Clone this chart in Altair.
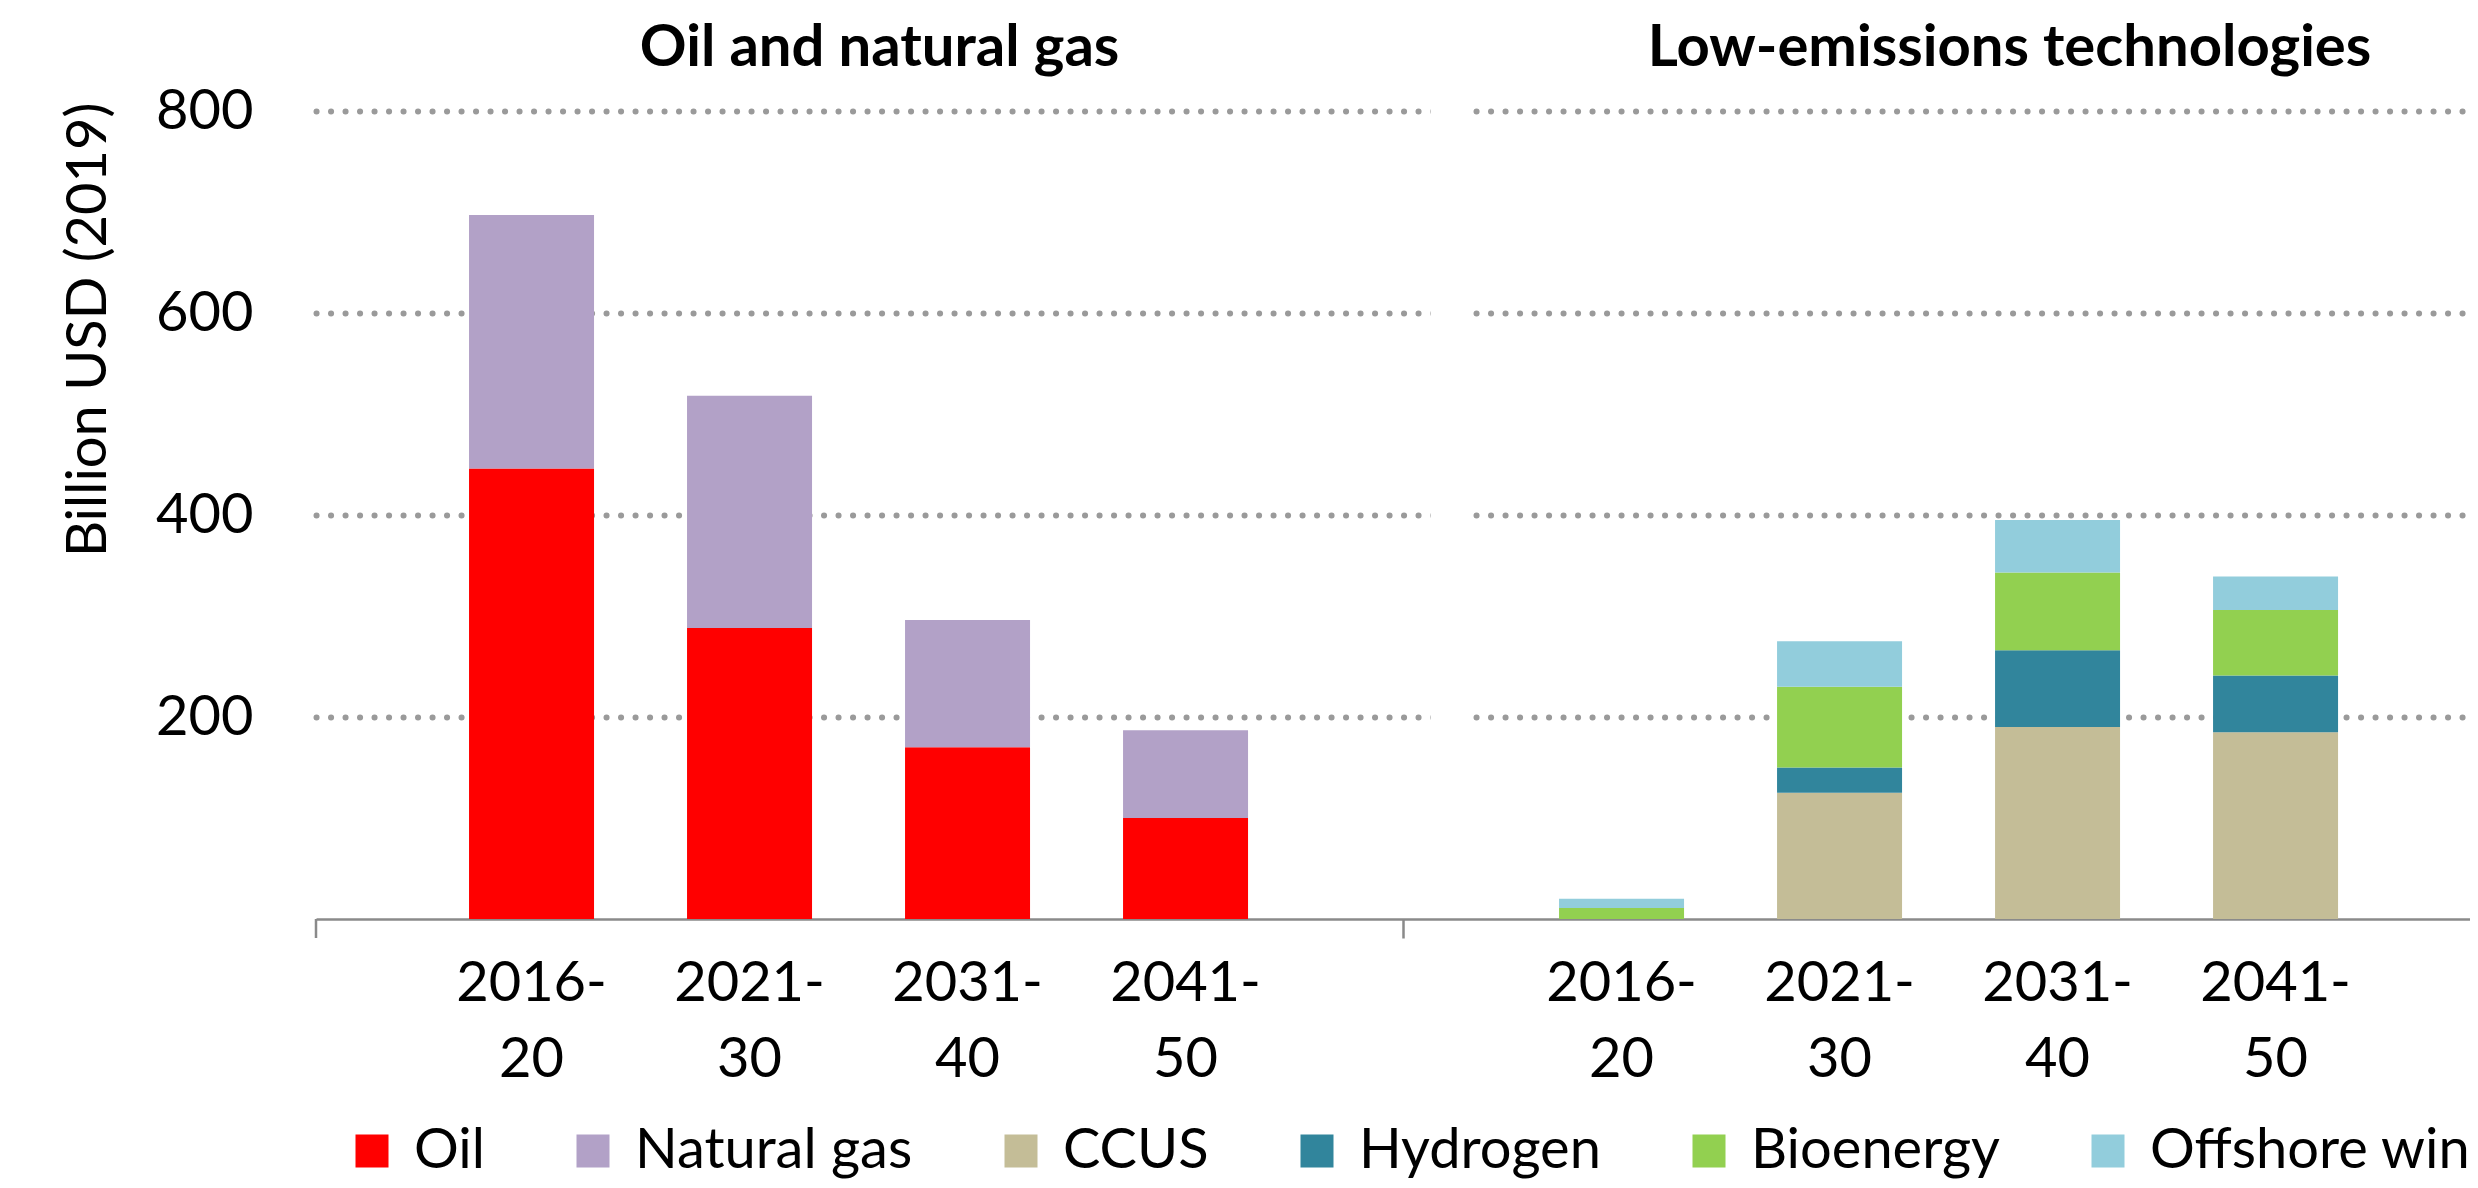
import altair as alt
import pandas as pd

# ---- data ----
periods = ["2016-20", "2021-30", "2031-40", "2041-50"]
panels = ["Oil and natural gas", "Low-emissions technologies"]

oil = [446, 288, 170, 100]
natural_gas = [251, 230, 126, 87]
ccus = [0, 125, 190, 185]
hydrogen = [0, 25, 76, 56]
bioenergy = [11, 80, 77, 65]
offshore_wind = [9, 45, 52, 33]

series_names = ["Oil", "Natural gas", "CCUS", "Hydrogen", "Bioenergy", "Offshore wind"]
series_colors = ["#FF0000", "#B2A1C7", "#C4BD97", "#31859C", "#92D050", "#92CDDC"]
y_ticks = [200, 400, 600, 800]
y_title = "Billion USD (2019)"

GAP = "gap"
series_panel = [panels[0], panels[0], panels[1], panels[1], panels[1], panels[1]]
series_values = [oil, natural_gas, ccus, hydrogen, bioenergy, offshore_wind]

rows = []
for k, (name, panel, vals) in enumerate(zip(series_names, series_panel, series_values)):
    for p, v in zip(periods, vals):
        rows.append({"slot": f"{panel}|{p}", "series": name, "value": v, "order": k})
df = pd.DataFrame(rows)

x_domain = [f"{panels[0]}|{p}" for p in periods] + [GAP] + [f"{panels[1]}|{p}" for p in periods]

FONT = "Lato"
GRAY = "#8a8a8a"

x_scale = alt.Scale(domain=x_domain, paddingInner=0.4266, paddingOuter=0.6536, align=0.537)
y_scale = alt.Scale(domain=[0, 800], nice=False)

label_expr = (
    "datum.value == 'gap' ? '' : "
    "[substring(split(datum.value, '|')[1], 0, 5), substring(split(datum.value, '|')[1], 5)]"
)

x_axis = alt.Axis(
    title=None,
    labelExpr=label_expr,
    labelFont=FONT,
    labelFontSize=56,
    labelColor="black",
    labelLineHeight=76,
    labelPadding=18,
    labelAlign="center",
    labelBaseline="top",
    labelAngle=0,
    labelOverlap=False,
    labelFlush=False,
    labelLimit=0,
    tickSize=19,
    tickWidth=2.5,
    tickColor=GRAY,
    tickOpacity={"condition": {"test": "datum.value == 'gap'", "value": 1}, "value": 0},
    domainColor=GRAY,
    domainWidth=2.5,
    grid=False,
)

y_axis = alt.Axis(
    values=y_ticks,
    title=y_title,
    titleFont=FONT,
    titleFontSize=56,
    titleFontWeight="normal",
    titleColor="black",
    titleAngle=270,
    titleAlign="right",
    titleBaseline="alphabetic",
    titleX=-211,
    titleY=-9,
    labelFont=FONT,
    labelFontSize=56,
    labelColor="black",
    labelPadding=63,
    ticks=False,
    domain=False,
    grid=True,
    gridColor="#9a9a9a",
    gridDash=[0.1, 14.4],
    gridCap="round",
    gridWidth=6,
)

base = alt.Chart(df)

bars = base.mark_bar().encode(
    x=alt.X("slot:N", scale=x_scale, axis=x_axis, sort=x_domain),
    y=alt.Y("value:Q", stack="zero", scale=y_scale, axis=y_axis),
    color=alt.Color(
        "series:N",
        scale=alt.Scale(domain=series_names, range=series_colors),
        legend=alt.Legend(
            orient="none",
            legendX=28,
            legendY=1012,
            direction="horizontal",
            columns=6,
            title=None,
            symbolType="square",
            symbolSize=1089,
            symbolStrokeWidth=0,
            symbolOpacity=1,
            labelFont=FONT,
            labelFontSize=56,
            labelColor="black",
            labelOffset=14,
            labelLimit=1000,
            columnPadding=80,
        ),
    ),
    order=alt.Order("order:Q", sort="ascending"),
)

# gap in the dotted gridlines next to the panel divider
gap_df = pd.DataFrame({"slot": [GAP]})
gap_mask = alt.Chart(gap_df).mark_bar(color="white", width=38, xOffset=46).encode(
    x=alt.X("slot:N", scale=x_scale, sort=x_domain),
    y=alt.value(-6),
    y2=alt.value(804),
)

# tick at the left end of the category axis
left_tick = alt.Chart(gap_df).mark_rule(color=GRAY, strokeWidth=2.5).encode(
    x=alt.value(0), y=alt.value(808), y2=alt.value(827)
)

titles_df = pd.DataFrame({
    "title": panels,
    "slot": [f"{panels[0]}|{periods[1]}", f"{panels[1]}|{periods[2]}"],
})
title_left = alt.Chart(titles_df).transform_filter(
    alt.datum.title == panels[0]
).mark_text(font=FONT, fontSize=58, fontWeight="bold", color="black",
            align="center", baseline="alphabetic", dx=130).encode(
    x=alt.X("slot:N", scale=x_scale, sort=x_domain), y=alt.value(-45), text="title:N"
)
title_right = alt.Chart(titles_df).transform_filter(
    alt.datum.title == panels[1]
).mark_text(font=FONT, fontSize=58, fontWeight="bold", color="black",
            align="center", baseline="alphabetic", dx=-48).encode(
    x=alt.X("slot:N", scale=x_scale, sort=x_domain), y=alt.value(-45), text="title:N"
)

chart = alt.layer(gap_mask, bars, left_tick, title_left, title_right).properties(
    width=2154,
    height=808,
    autosize=alt.AutoSizeParams(type="none"),
    padding={"left": 308, "top": 103, "right": 0, "bottom": 265},
    background="white",
).configure_view(stroke=None)

chart.save("out.html", embed_options={"renderer": "svg", "actions": False})
